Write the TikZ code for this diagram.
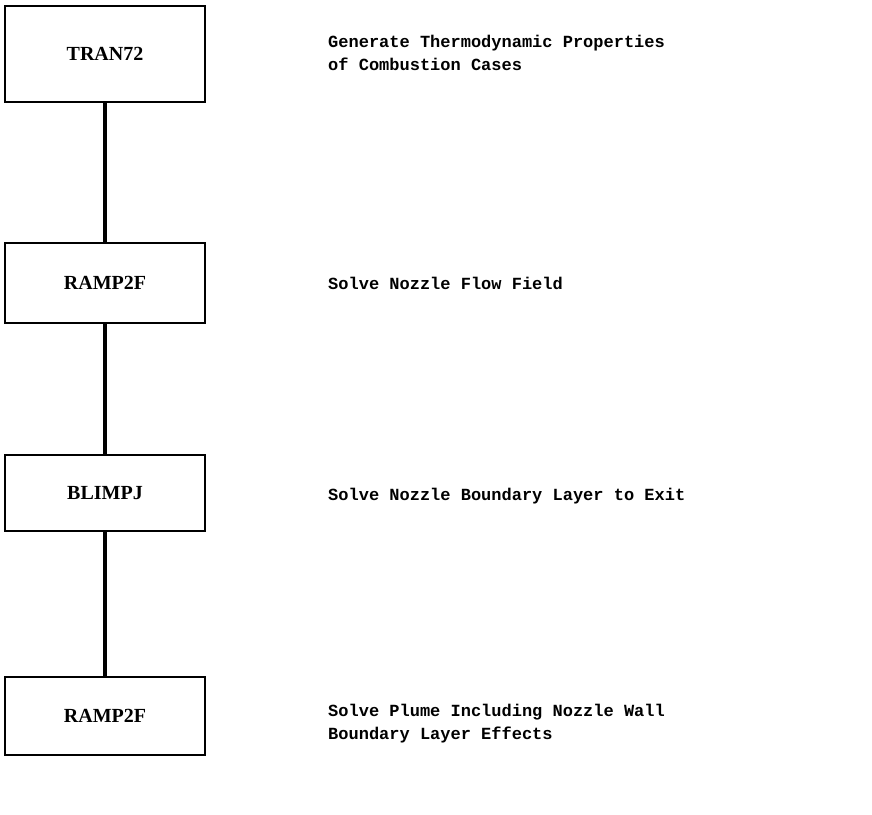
\documentclass[tikz,border=0pt]{standalone}
\usepackage{fontspec}
\setmainfont{Liberation Serif}
\newfontfamily\descfont{Liberation Mono}
\begin{document}
\begin{tikzpicture}[x=1pt,y=-1pt,
  prog/.style={draw=black, line width=2.6pt, minimum width=200pt,
    inner sep=0pt, font=\fontsize{20}{22}\selectfont\bfseries},
  desc/.style={anchor=west, align=left, inner sep=0pt,
    font=\descfont\fontsize{17}{23}\selectfont\bfseries},
  link/.style={line width=4.5pt}]
\useasboundingbox (0,0) rectangle (872,814);
\node[prog, minimum height=96pt] (tran) at (105,54) {TRAN72};
\node[prog, minimum height=80pt] (ramp1) at (105,283) {RAMP2F};
\node[prog, minimum height=76pt] (blimp) at (105,493) {BLIMPJ};
\node[prog, minimum height=78pt] (ramp2) at (105,716) {RAMP2F};
\draw[link] (tran.south) -- (ramp1.north);
\draw[link] (ramp1.south) -- (blimp.north);
\draw[link] (blimp.south) -- (ramp2.north);
\node[desc] (d1) at (328,53) {Generate Thermodynamic Properties\\of Combustion Cases};
\node[desc] (d2) at (328,283) {Solve Nozzle Flow Field};
\node[desc] (d3) at (328,496) {Solve Nozzle Boundary Layer to Exit};
\node[desc] (d4) at (328,724) {Solve Plume Including Nozzle Wall\\Boundary Layer Effects};
\end{tikzpicture}
\end{document}
